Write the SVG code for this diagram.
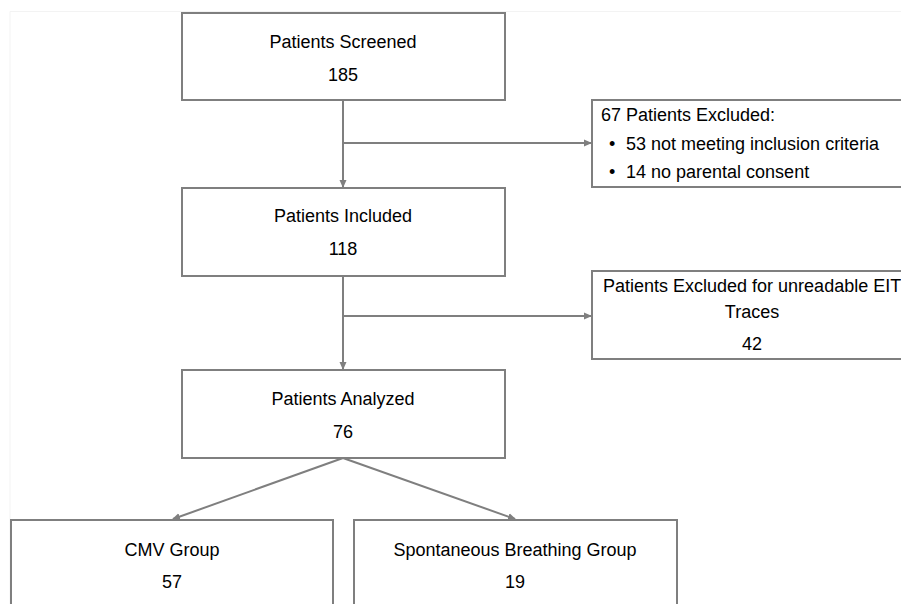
<svg xmlns="http://www.w3.org/2000/svg" width="901" height="604" viewBox="0 0 901 604">
<defs>
<marker id="ah" markerWidth="8" markerHeight="8" refX="7" refY="4" orient="auto" markerUnits="userSpaceOnUse">
<path d="M0,0.5 L8,4 L0,7.5 Z" fill="#7f7f7f"/>
</marker>
<style>
.box{fill:#fff;stroke:#7f7f7f;stroke-width:2}
.t{font-family:"Liberation Sans",Arial,sans-serif;font-size:18px;fill:#000}
.c{text-anchor:middle}
.ln{fill:none;stroke:#7f7f7f;stroke-width:2}
</style>
</defs>
<rect width="901" height="604" fill="#fff"/>
<path d="M10,604 V11.5 H901" fill="none" stroke="#f3f3f3" stroke-width="1"/>
<g id="connectors">
<line class="ln" x1="343" y1="101" x2="343" y2="187" marker-end="url(#ah)"/>
<line class="ln" x1="343" y1="143" x2="591" y2="143" marker-end="url(#ah)"/>
<line class="ln" x1="343" y1="277" x2="343" y2="369" marker-end="url(#ah)"/>
<line class="ln" x1="343" y1="316" x2="591" y2="316" marker-end="url(#ah)"/>
<line class="ln" x1="343" y1="458" x2="173" y2="519" marker-end="url(#ah)"/>
<line class="ln" x1="343" y1="458" x2="515" y2="519" marker-end="url(#ah)"/>
</g>
<g id="screened">
<rect class="box" x="182" y="13" width="323" height="87"/>
<text class="t c" x="343" y="48">Patients Screened</text>
<text class="t c" x="343" y="81">185</text>
</g>
<g id="excluded1">
<rect class="box" x="592" y="100" width="320" height="87"/>
<text class="t" x="601" y="121">67 Patients Excluded:</text>
<text class="t" x="609" y="150">•</text>
<text class="t" x="626" y="150">53 not meeting inclusion criteria</text>
<text class="t" x="609" y="178">•</text>
<text class="t" x="626" y="178">14 no parental consent</text>
</g>
<g id="included">
<rect class="box" x="182" y="188" width="323" height="88"/>
<text class="t c" x="343" y="222">Patients Included</text>
<text class="t c" x="343" y="255">118</text>
</g>
<g id="excluded2">
<rect class="box" x="592" y="271" width="320" height="88"/>
<text class="t" x="603" y="292">Patients Excluded for unreadable EIT</text>
<text class="t c" x="752" y="318">Traces</text>
<text class="t c" x="752" y="350">42</text>
</g>
<g id="analyzed">
<rect class="box" x="182" y="370" width="323" height="88"/>
<text class="t c" x="343" y="405">Patients Analyzed</text>
<text class="t c" x="343" y="438">76</text>
</g>
<g id="cmv">
<rect class="box" x="11" y="520" width="322" height="100"/>
<text class="t c" x="172" y="556">CMV Group</text>
<text class="t c" x="172" y="588">57</text>
</g>
<g id="spontaneous">
<rect class="box" x="354" y="520" width="323" height="100"/>
<text class="t c" x="515" y="556">Spontaneous Breathing Group</text>
<text class="t c" x="515" y="588">19</text>
</g>
</svg>
